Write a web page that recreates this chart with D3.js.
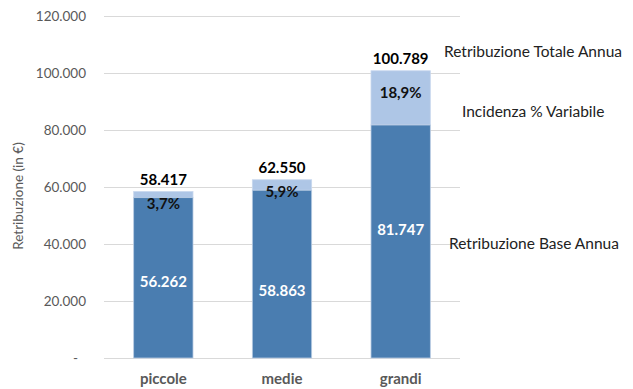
<!DOCTYPE html>
<html><head><meta charset="utf-8">
<script src="https://cdn.jsdelivr.net/npm/d3@7"></script>
<style>body{margin:0;background:#fff}svg{display:block;font-family:Lato,"Open Sans",sans-serif}</style>
</head><body><svg id="c" width="633" height="389"></svg>
<script>
const categories = ["piccole","medie","grandi"];
const baseValues = [56262, 58863, 81747];
const totalValues = [58417, 62550, 100789];
const variablePct = ["3,7%","5,9%","18,9%"];
const baseLabelAnchor = [26700, 23500, 44900];
const yTicks = [0,20000,40000,60000,80000,100000,120000];
const seriesNames = ["Retribuzione Totale Annua","Incidenza % Variabile","Retribuzione Base Annua"];
const seriesNameAnchor = [107500, 86500, 40000];

const svg = d3.select("#c");
const m = {l:104, r:460, t:16, b:358};
const x = d3.scaleBand().domain(categories).range([m.l, m.r]).paddingInner(0.5).paddingOuter(0.25);
const y = d3.scaleLinear().domain([0,120000]).range([m.b, m.t]);
const fmt = v => v === 0 ? "-" : d3.format(",")(v).replace(/,/g, ".");

// grid
svg.append("g").selectAll("line").data(yTicks).join("line")
  .attr("x1", m.l).attr("x2", m.r)
  .attr("y1", d => y(d)).attr("y2", d => y(d))
  .attr("stroke", "#d9d9d9").attr("stroke-width", 1).attr("shape-rendering","crispEdges");

// y axis labels
const yAxis = d3.axisLeft(y).tickValues(yTicks).tickSize(0).tickPadding(0).tickFormat(fmt);
const ga = svg.append("g").attr("transform", `translate(86,0)`).call(yAxis);
ga.select(".domain").remove();
ga.selectAll("text").attr("fill","#595959").style("font-size","13.5px").style("font-family","Lato,sans-serif")
  .attr("dx", d => d === 0 ? -8 : 0);

// y title
svg.append("text").attr("transform", `translate(23,${(m.t+m.b)/2+9}) rotate(-90)`)
  .attr("text-anchor","middle").attr("fill","#595959").style("font-size","13.5px")
  .text("Retribuzione (in €)");

// x labels
const gx = svg.append("g").attr("transform", `translate(0,${m.b})`)
  .call(d3.axisBottom(x).tickSize(0).tickPadding(15));
gx.select(".domain").remove();
gx.selectAll("text").attr("fill","#595959").style("font-size","15px").style("font-weight","bold").style("font-family","Lato,sans-serif");

// bars
const bars = categories.map((c,i) => ({c, base: baseValues[i], total: totalValues[i], pct: variablePct[i], anchor: baseLabelAnchor[i]}));
svg.append("g").selectAll("rect").data(bars).join("rect")
  .attr("x", d => x(d.c)).attr("width", x.bandwidth())
  .attr("y", d => y(d.total)).attr("height", d => y(d.base) - y(d.total))
  .attr("fill", "#aec6e6").attr("stroke","#c9d8ee").attr("stroke-width",0.8);
svg.append("g").selectAll("rect").data(bars).join("rect")
  .attr("x", d => x(d.c)).attr("width", x.bandwidth())
  .attr("y", d => y(d.base)).attr("height", d => y(0) - y(d.base))
  .attr("fill", "#4a7db0").attr("stroke","#b8cbe3").attr("stroke-width",0.8);

// labels
const cx = d => x(d.c) + x.bandwidth()/2;
svg.append("g").selectAll("text").data(bars).join("text")
  .attr("x", cx).attr("y", d => y(d.total) - 12).attr("dy","0.35em")
  .attr("text-anchor","middle").style("font-size","15px").style("font-weight","bold").attr("fill","#000")
  .text(d => fmt(d.total));
svg.append("g").selectAll("text").data(bars).join("text")
  .attr("x", cx).attr("y", d => { const t = y(d.total), h = y(d.base) - t; return Math.max(t + 12, t + 0.4*h); })
  .attr("dy","0.35em").attr("text-anchor","middle").style("font-size","15px").style("font-weight","bold").attr("fill","#111")
  .text(d => d.pct);
svg.append("g").selectAll("text").data(bars).join("text")
  .attr("x", cx).attr("y", d => y(d.anchor)).attr("dy","0.35em")
  .attr("text-anchor","middle").style("font-size","15px").style("font-weight","bold").attr("fill","#fff")
  .text(d => fmt(d.base));

// series annotations
const ann = [{t:seriesNames[0], a:seriesNameAnchor[0], x:444},{t:seriesNames[1], a:seriesNameAnchor[1], x:462},{t:seriesNames[2], a:seriesNameAnchor[2], x:449}];
svg.append("g").selectAll("text").data(ann).join("text")
  .attr("x", d => d.x).attr("y", d => y(d.a)).attr("dy","0.35em")
  .style("font-size","15.5px").attr("fill","#222").text(d => d.t);
</script></body></html>
